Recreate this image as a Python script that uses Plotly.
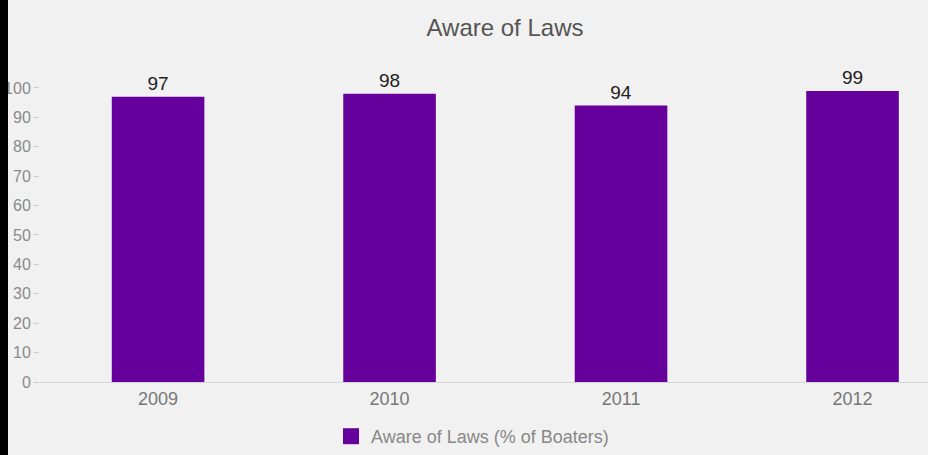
import plotly.graph_objects as go

years = ["2009", "2010", "2011", "2012"]
aware_pct = [97, 98, 94, 99]
series_name = "Aware of Laws (% of Boaters)"
chart_title = "Aware of Laws"
y_ticks = [0, 10, 20, 30, 40, 50, 60, 70, 80, 90, 100]

W, H = 928, 455
L, R, T, B = 40, 0, 75, 72
plot_w = W - L - R
plot_h = H - T - B
FONT = "Liberation Sans, Arial, sans-serif"
BAR_COLOR = "#65009c"

fig = go.Figure()
fig.add_trace(go.Bar(
    x=years,
    y=aware_pct,
    name=series_name,
    legendgroup="aware",
    marker=dict(color=BAR_COLOR, line=dict(width=0)),
    width=0.4,
    text=aware_pct,
    texttemplate="%{text}",
    textposition="outside",
    textfont=dict(family=FONT, size=19, color="#222222"),
    cliponaxis=False,
    showlegend=False,
))
# legend entry with a larger square swatch for the bar series
fig.add_trace(go.Scatter(
    x=[None],
    y=[None],
    mode="markers",
    name=series_name,
    legendgroup="aware",
    marker=dict(symbol="square", size=16, color=BAR_COLOR),
    hoverinfo="skip",
    showlegend=True,
))

fig.update_layout(
    width=W,
    height=H,
    margin=dict(l=L, r=R, t=T, b=B),
    paper_bgcolor="#f1f1f1",
    plot_bgcolor="#f1f1f1",
    font=dict(family=FONT, color="#888888", size=12),
    title=dict(
        text=chart_title,
        x=505 / W,
        xanchor="center",
        y=1 - 28 / H,
        yanchor="middle",
        font=dict(size=24, color="#555555"),
    ),
    xaxis=dict(
        type="category",
        range=[-0.51, 3.326],
        showgrid=False,
        showline=True,
        linecolor="#d6d6d6",
        linewidth=1,
        ticks="",
        tickfont=dict(size=18, color="#777777"),
        zeroline=False,
    ),
    yaxis=dict(
        range=[0, (383 - T) / 2.95],
        tickvals=y_ticks,
        showgrid=False,
        zeroline=False,
        showline=False,
        ticks="outside",
        ticklen=5,
        tickcolor="#cccccc",
        tickfont=dict(size=16, color="#8a8a8a"),
    ),
    legend=dict(
        orientation="h",
        x=452 / W,
        xanchor="center",
        y=-(438 - 383) / plot_h,
        yanchor="middle",
        font=dict(size=18, color="#888888"),
        bgcolor="rgba(0,0,0,0)",
        itemsizing="trace",
    ),
    shapes=[
        dict(
            type="rect",
            xref="paper",
            yref="paper",
            x0=(0 - L) / plot_w,
            x1=(8 - L) / plot_w,
            y0=-(H - T - plot_h) / plot_h - 0.1,
            y1=1 + T / plot_h + 0.1,
            fillcolor="#000000",
            line=dict(width=0),
            layer="above",
        )
    ],
)

fig.write_html("out.html")
